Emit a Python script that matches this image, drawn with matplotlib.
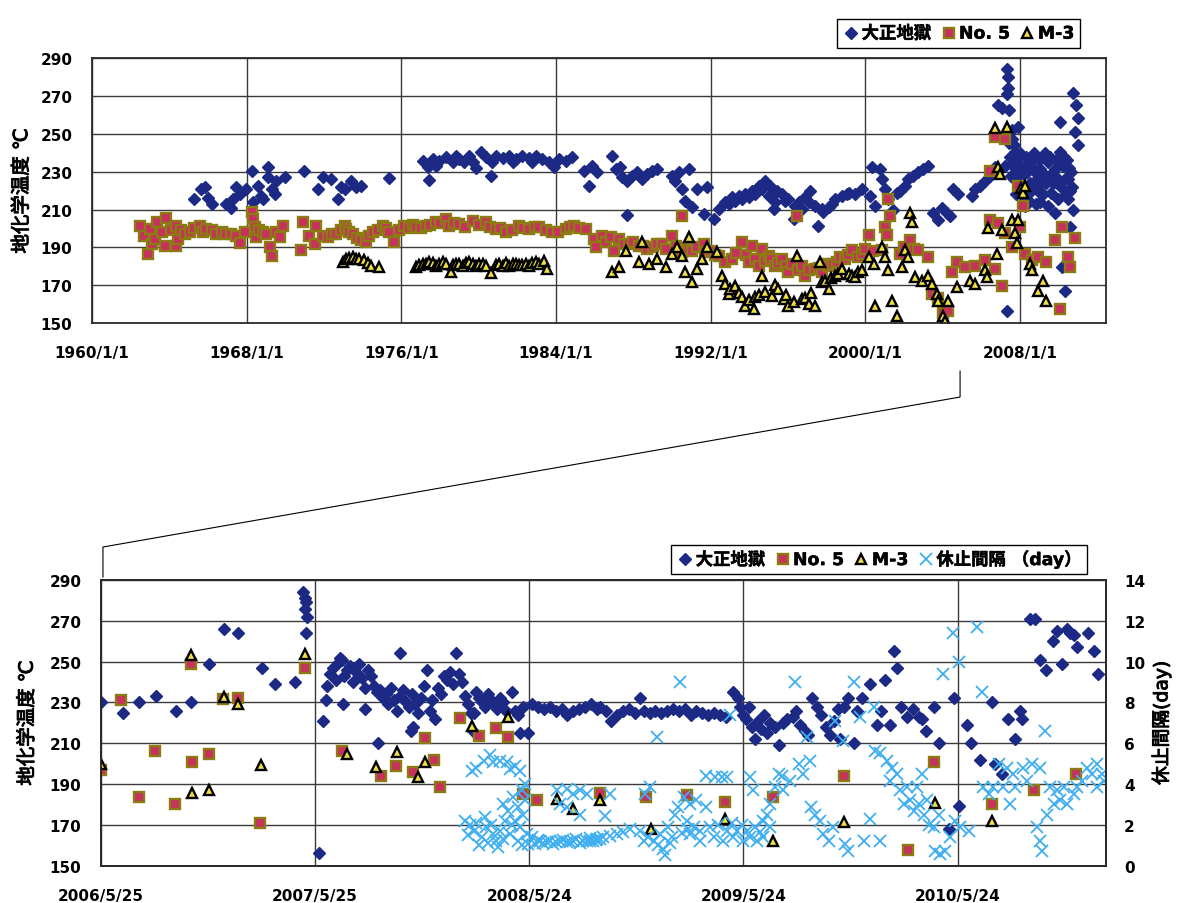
import numpy as np
import pandas as pd
import matplotlib
matplotlib.use("Agg")
import matplotlib.pyplot as plt
import matplotlib.patheffects as pe
from matplotlib.lines import Line2D

plt.rcParams["font.family"] = ["DejaVu Sans", "Noto Sans CJK JP"]
plt.rcParams["font.weight"] = "bold"

# ---------------- upper chart (decimal years, deg C) ----------------
taisho_year = [
    1965.27, 1965.66, 1965.83, 1966.00, 1966.20, 1966.95, 1967.20, 1967.30, 1967.47, 1967.64,
    1967.98, 1968.29, 1968.33, 1968.59, 1968.76, 1968.84, 1969.10, 1969.10, 1969.30, 1969.45,
    1969.53, 1969.96, 1970.96, 1971.68, 1971.94, 1972.37, 1972.71, 1972.89, 1973.06, 1973.40,
    1973.66, 1973.92, 1975.35, 1977.10, 1977.36, 1977.45, 1977.62, 1977.79, 1977.96, 1978.30,
    1978.65, 1978.82, 1979.00, 1979.25, 1979.51, 1979.68, 1979.85, 1980.11, 1980.37, 1980.63,
    1980.71, 1980.89, 1981.23, 1981.57, 1981.75, 1981.92, 1982.26, 1982.61, 1982.78, 1982.95,
    1983.29, 1983.64, 1983.90, 1984.15, 1984.50, 1984.84, 1985.45, 1985.70, 1985.88, 1986.13,
    1986.90, 1987.08, 1987.33, 1987.42, 1987.68, 1987.68, 1987.94, 1988.20, 1988.45, 1988.71,
    1988.97, 1989.23, 1990.00, 1990.17, 1990.35, 1990.52, 1990.69, 1990.86, 1991.03, 1991.29,
    1991.64, 1991.81, 1992.15, 1992.41, 1992.75, 1992.93, 1993.10, 1993.27, 1993.44, 1993.61,
    1993.79, 1993.96, 1994.13, 1994.30, 1994.47, 1994.65, 1994.82, 1994.99, 1995.08, 1995.25,
    1995.33, 1995.42, 1995.68, 1995.85, 1996.02, 1996.28, 1996.37, 1996.54, 1996.71, 1996.88,
    1997.06, 1997.14, 1997.40, 1997.57, 1997.74, 1997.83, 1998.09, 1998.26, 1998.43, 1998.78,
    1999.03, 1999.13, 1999.47, 1999.81, 2000.24, 2000.33, 2000.50, 2000.76, 2000.85, 2001.02,
    2001.19, 2001.45, 2001.62, 2001.79, 2002.05, 2002.22, 2002.48, 2002.74, 2002.98, 2003.25,
    2003.51, 2003.77, 2003.94, 2004.20, 2004.37, 2004.55, 2004.80, 2005.49, 2005.66, 2005.92,
    2006.18, 2006.44, 2006.70, 2006.87, 2007.04, 2007.21, 2007.30, 2007.35, 2007.39, 2007.30,
    2007.42, 2007.30, 2007.50, 2007.56, 2007.64, 2007.70, 2007.73, 2007.80, 2007.90, 2007.90,
    2008.00, 2008.07, 2008.16, 2008.24, 2008.24, 2008.30, 2008.40, 2008.50, 2008.60, 2008.76,
    2008.80, 2008.93, 2009.02, 2009.10, 2009.19, 2009.28, 2009.30, 2009.45, 2009.45, 2009.60,
    2009.62, 2009.79, 2009.79, 2009.90, 2009.97, 2010.05, 2010.05, 2010.14, 2010.20, 2010.31,
    2010.31, 2010.40, 2010.48, 2010.57, 2010.60, 2010.65, 2010.74, 2010.74, 2010.83, 2010.91,
    2011.00, 2011.00, 2007.45, 2007.55, 2007.60, 2007.68, 2007.75, 2007.85, 2007.95, 2008.05,
    2008.10, 2008.20, 2008.35, 2008.45, 2008.55, 2008.65, 2008.70, 2008.85, 2009.00, 2009.05,
    2009.15, 2009.35, 2009.50, 2009.55, 2009.70, 2009.85, 2009.95, 2010.10, 2010.25, 2010.35,
    2010.45, 2010.55, 2010.70,
]
taisho_temp = [
    215.6, 220.9, 221.8, 216.0, 213.0, 213.0, 211.0, 215.6, 221.8, 218.3,
    220.9, 230.3, 214.2, 222.7, 217.4, 215.6, 232.7, 227.1, 220.9, 218.3,
    225.3, 227.1, 230.6, 220.9, 227.1, 226.2, 215.6, 221.8, 221.0, 225.3,
    221.8, 222.7, 226.6, 235.9, 232.4, 225.8, 236.8, 233.2, 235.9, 237.7,
    235.0, 238.5, 236.8, 235.0, 238.5, 235.0, 231.8, 240.3, 237.7, 227.6,
    235.0, 238.5, 237.1, 238.2, 235.0, 236.8, 238.5, 237.1, 235.0, 238.5,
    236.8, 235.0, 232.4, 236.8, 235.9, 237.7, 230.6, 222.7, 233.2, 229.7,
    238.5, 231.5, 232.4, 227.1, 225.3, 207.1, 228.0, 229.7, 226.2, 228.9,
    230.6, 231.5, 228.0, 225.3, 229.7, 220.9, 214.7, 231.5, 211.2, 220.9,
    207.7, 221.8, 205.0, 210.3, 213.8, 213.0, 216.5, 214.7, 217.4, 215.6,
    218.3, 216.5, 220.0, 218.3, 222.7, 220.9, 225.3, 217.4, 222.7, 210.3,
    213.8, 220.0, 218.3, 214.7, 215.6, 205.0, 212.1, 213.8, 210.3, 216.5,
    213.8, 220.0, 212.1, 201.5, 210.3, 208.6, 211.2, 213.0, 215.6, 217.4,
    218.3, 219.0, 218.0, 220.7, 217.2, 232.4, 211.8, 231.5, 226.1, 220.7,
    215.4, 210.0, 219.0, 219.9, 222.5, 226.1, 227.9, 229.7, 231.5, 233.3,
    208.2, 204.6, 210.9, 208.2, 206.4, 220.7, 218.0, 217.2, 220.7, 222.5,
    225.2, 227.9, 232.4, 265.5, 263.7, 233.3, 284.3, 279.9, 274.5, 270.9,
    262.8, 156.3, 238.0, 247.6, 235.1, 226.0, 240.4, 218.0, 253.9, 229.7,
    240.0, 222.5, 217.2, 233.3, 211.8, 238.0, 215.0, 224.3, 236.0, 229.7,
    213.0, 220.0, 231.5, 224.0, 218.0, 226.1, 240.0, 235.1, 211.8, 228.0,
    219.0, 231.5, 208.2, 224.0, 215.4, 240.4, 256.6, 179.6, 233.0, 226.1,
    167.0, 236.0, 215.4, 201.0, 220.0, 229.7, 210.0, 271.8, 251.2, 265.5,
    258.4, 244.0, 245.0, 228.0, 252.0, 244.0, 232.0, 236.0, 225.0, 232.0,
    228.0, 221.0, 230.0, 219.0, 233.0, 222.0, 240.0, 226.0, 236.0, 214.0,
    230.0, 224.0, 228.0, 238.0, 224.0, 236.0, 226.0, 222.0, 238.0, 218.0,
    226.0, 232.0, 222.0,
]

no5_year = [
    1962.48, 1962.70, 1962.90, 1962.99, 1963.10, 1963.25, 1963.34, 1963.60, 1963.77, 1963.85,
    1964.10, 1964.33, 1964.37, 1964.46, 1964.60, 1964.80, 1965.06, 1965.30, 1965.57, 1965.75,
    1965.92, 1966.20, 1966.43, 1966.70, 1966.95, 1967.20, 1967.47, 1967.64, 1967.90, 1968.29,
    1968.33, 1968.41, 1968.50, 1968.65, 1968.84, 1969.00, 1969.19, 1969.32, 1969.50, 1969.70,
    1969.87, 1970.82, 1970.91, 1971.20, 1971.51, 1971.60, 1971.94, 1972.20, 1972.40, 1972.63,
    1972.90, 1973.06, 1973.14, 1973.30, 1973.49, 1973.70, 1973.90, 1974.18, 1974.35, 1974.52,
    1974.80, 1975.04, 1975.20, 1975.38, 1975.64, 1975.90, 1976.15, 1976.40, 1976.60, 1976.76,
    1977.00, 1977.27, 1977.50, 1977.79, 1978.00, 1978.31, 1978.48, 1978.70, 1979.00, 1979.30,
    1979.68, 1980.00, 1980.37, 1980.60, 1980.89, 1981.10, 1981.40, 1981.70, 1982.09, 1982.30,
    1982.61, 1982.90, 1983.12, 1983.50, 1983.81, 1984.10, 1984.50, 1984.70, 1984.93, 1985.20,
    1985.53, 1985.96, 1986.05, 1986.39, 1986.60, 1986.82, 1986.99, 1987.25, 1987.50, 1987.76,
    1988.00, 1988.28, 1988.50, 1988.71, 1989.00, 1989.23, 1989.50, 1989.66, 1990.00, 1990.20,
    1990.52, 1990.52, 1990.80, 1991.03, 1991.30, 1991.64, 1991.72, 1992.00, 1992.20, 1992.41,
    1992.75, 1993.10, 1993.30, 1993.61, 1993.80, 1993.96, 1994.13, 1994.30, 1994.47, 1994.65,
    1994.80, 1994.99, 1995.10, 1995.33, 1995.50, 1995.68, 1995.90, 1996.02, 1996.20, 1996.45,
    1996.50, 1996.71, 1996.88, 1997.10, 1997.40, 1997.60, 1997.74, 1997.90, 1998.09, 1998.30,
    1998.52, 1998.70, 1998.95, 1999.10, 1999.30, 1999.60, 1999.81, 2000.00, 2000.16, 2000.40,
    2000.85, 2001.02, 2001.10, 2001.19, 2001.28, 2001.79, 2002.00, 2002.31, 2002.50, 2002.74,
    2003.25, 2003.43, 2003.77, 2004.03, 2004.29, 2004.46, 2004.72, 2005.15, 2005.66, 2006.18,
    2006.44, 2006.44, 2006.70, 2006.70, 2006.87, 2007.04, 2007.21, 2007.21, 2007.56, 2007.90,
    2007.99, 2008.16, 2008.24, 2008.59, 2008.93, 2009.36, 2009.79, 2010.05, 2010.17, 2010.48,
    2010.57, 2010.83,
]
no5_temp = [
    201.5, 196.0, 186.5, 199.7, 192.0, 194.4, 203.3, 198.0, 190.9, 205.4,
    199.0, 190.9, 201.5, 194.4, 199.0, 197.1, 198.0, 200.0, 201.5, 198.0,
    199.7, 199.0, 197.1, 198.0, 197.1, 197.0, 196.2, 192.3, 198.0, 208.9,
    205.0, 200.6, 195.3, 199.0, 198.0, 197.0, 190.0, 185.6, 198.0, 195.3,
    201.5, 188.8, 203.3, 196.0, 191.8, 201.5, 196.2, 195.3, 197.0, 197.1,
    199.0, 201.5, 199.7, 198.0, 197.1, 195.0, 194.0, 192.7, 196.0, 198.0,
    199.0, 201.5, 200.0, 198.0, 193.0, 199.0, 201.5, 200.0, 202.0, 200.6,
    200.0, 201.5, 202.0, 203.3, 203.0, 205.0, 201.5, 203.0, 202.4, 201.0,
    204.2, 202.0, 203.3, 201.0, 199.7, 200.0, 198.0, 199.0, 201.5, 200.0,
    199.7, 201.0, 200.6, 199.0, 198.0, 198.0, 199.7, 201.0, 201.5, 200.0,
    199.7, 194.4, 190.0, 196.2, 193.0, 195.3, 188.3, 194.4, 192.0, 191.8,
    193.0, 190.9, 191.0, 189.2, 190.0, 191.8, 192.0, 189.2, 196.2, 191.0,
    206.8, 187.4, 189.0, 188.3, 190.0, 191.8, 187.4, 188.0, 186.0, 185.6,
    182.1, 183.9, 187.0, 192.7, 186.0, 182.1, 190.9, 184.0, 180.3, 189.2,
    183.0, 185.6, 184.0, 180.3, 182.0, 183.9, 180.0, 176.8, 181.0, 206.8,
    178.0, 180.3, 175.0, 178.0, 178.6, 179.0, 176.8, 181.0, 180.3, 181.0,
    182.1, 185.0, 183.9, 186.0, 188.5, 185.0, 186.7, 189.0, 196.6, 188.0,
    188.5, 201.0, 196.6, 215.4, 206.4, 186.7, 190.0, 193.9, 189.0, 188.5,
    184.9, 165.2, 163.4, 155.4, 156.3, 176.9, 182.2, 179.6, 180.4, 183.1,
    230.6, 204.6, 248.5, 178.6, 202.8, 169.7, 247.6, 197.5, 190.3, 222.5,
    201.0, 211.8, 186.7, 183.1, 184.9, 182.2, 193.9, 157.2, 201.0, 184.9,
    179.6, 194.8,
]

m3_year = [
    1972.97, 1973.14, 1973.30, 1973.49, 1973.66, 1973.83, 1974.09, 1974.26, 1974.43, 1974.86,
    1976.76, 1976.93, 1977.10, 1977.27, 1977.45, 1977.62, 1977.79, 1977.96, 1978.13, 1978.30,
    1978.56, 1978.65, 1978.82, 1979.00, 1979.17, 1979.34, 1979.51, 1979.68, 1979.85, 1980.02,
    1980.20, 1980.37, 1980.63, 1980.89, 1981.06, 1981.23, 1981.40, 1981.57, 1981.75, 1981.92,
    1982.09, 1982.26, 1982.44, 1982.61, 1982.78, 1982.95, 1983.12, 1983.38, 1983.55, 1986.90,
    1987.25, 1987.63, 1988.28, 1988.45, 1988.80, 1989.23, 1989.66, 1990.00, 1990.26, 1990.52,
    1990.69, 1990.86, 1991.03, 1991.29, 1991.55, 1991.81, 1992.33, 1992.58, 1992.75, 1992.93,
    1993.00, 1993.27, 1993.45, 1993.61, 1993.79, 1994.00, 1994.22, 1994.30, 1994.50, 1994.65,
    1994.82, 1995.16, 1995.30, 1995.50, 1995.77, 1995.90, 1996.02, 1996.30, 1996.45, 1996.71,
    1996.90, 1997.06, 1997.20, 1997.40, 1997.66, 1997.74, 1997.90, 1998.09, 1998.20, 1998.43,
    1998.60, 1998.78, 1999.13, 1999.30, 1999.47, 1999.60, 1999.81, 2000.16, 2000.42, 2000.50,
    2000.85, 2001.02, 2001.19, 2001.36, 2001.62, 2001.88, 2002.05, 2002.22, 2002.31, 2002.39,
    2002.57, 2002.91, 2003.25, 2003.43, 2003.69, 2003.77, 2004.03, 2004.12, 2004.29, 2004.72,
    2005.40, 2005.66, 2006.18, 2006.27, 2006.35, 2006.70, 2006.78, 2006.87, 2006.96, 2007.04,
    2007.30, 2007.56, 2007.73, 2007.82, 2007.90, 2008.07, 2008.16, 2008.24, 2008.50, 2008.59,
    2008.93, 2009.19, 2009.36,
]
m3_temp = [
    182.1, 183.9, 184.5, 184.7, 184.0, 183.9, 183.5, 182.0, 180.3, 179.4,
    179.4, 180.5, 181.2, 181.0, 182.1, 181.5, 180.3, 181.0, 182.1, 181.0,
    176.8, 180.5, 181.2, 181.0, 180.3, 181.5, 182.1, 181.0, 180.3, 181.0,
    181.2, 180.0, 176.5, 180.7, 181.0, 180.0, 181.5, 180.3, 181.0, 181.2,
    180.5, 180.7, 181.0, 180.3, 181.5, 182.1, 181.0, 183.0, 178.6, 176.8,
    179.4, 188.3, 182.1, 192.7, 181.2, 183.9, 179.4, 186.5, 190.0, 185.6,
    176.8, 195.3, 171.5, 178.6, 183.9, 190.0, 187.4, 175.0, 170.6, 165.3,
    168.0, 169.7, 166.0, 163.6, 159.2, 162.0, 157.4, 163.6, 165.0, 175.0,
    166.2, 164.5, 170.0, 168.0, 162.7, 165.0, 159.2, 161.0, 185.6, 162.7,
    163.0, 160.1, 166.0, 159.2, 182.1, 171.5, 172.0, 168.0, 174.0, 175.0,
    176.0, 178.6, 176.0, 175.0, 174.2, 177.0, 177.8, 184.9, 181.3, 159.0,
    190.3, 184.9, 177.8, 161.6, 153.6, 179.6, 188.5, 184.9, 208.2, 203.7,
    174.2, 172.4, 175.1, 170.6, 165.2, 161.6, 153.6, 150.9, 161.6, 168.8,
    172.4, 170.6, 177.8, 174.2, 200.2, 253.0, 186.7, 232.4, 228.8, 199.3,
    253.9, 204.6, 197.5, 192.1, 204.6, 221.6, 219.0, 222.5, 181.3, 177.8,
    167.0, 172.4, 161.6,
]

# ---------------- lower chart (days after 2006/5/25) ----------------
taisho_day = [
    0, 38, 65, 94, 128, 154, 185, 209, 234, 274, 297, 330, 345, 347, 348, 349, 350, 352,
    372, 379, 383, 385, 390, 395, 400, 405, 407, 410, 413, 415, 420, 425, 430, 435, 440,
    445, 450, 450, 455, 460, 465, 470, 473, 475, 480, 485, 490, 495, 500, 505, 510, 510,
    515, 520, 525, 528, 530, 532, 535, 540, 545, 550, 555, 560, 565, 570, 575, 580, 585,
    590, 595, 600, 605, 610, 615, 620, 625, 630, 634, 635, 640, 645, 650, 655, 660, 665,
    670, 675, 680, 685, 690, 700, 705, 710, 715, 720, 727, 735, 745, 755, 765, 775, 785,
    795, 805, 815, 825, 835, 845, 850, 860, 870, 880, 890, 900, 910, 918, 925, 935, 945,
    955, 965, 975, 985, 995, 1005, 1015, 1025, 1035, 1045, 1055, 1065, 1078, 1085, 1090,
    1095, 1100, 1105, 1110, 1115, 1120, 1125, 1130, 1135, 1140, 1148, 1155, 1162, 1170,
    1180, 1185, 1192, 1200, 1205, 1212, 1220, 1228, 1235, 1242, 1250, 1257, 1260, 1266,
    1274, 1283, 1288, 1297, 1310, 1323, 1330, 1337, 1344, 1352, 1357, 1363, 1374, 1384,
    1394, 1400, 1407, 1419, 1428, 1445, 1454, 1462, 1476, 1483, 1498, 1519, 1524, 1536,
    1546, 1558, 1567, 1570, 1583, 1592, 1600, 1610, 1623, 1629, 1638, 1646, 1652, 1658,
    1663, 1683, 1692, 1699,
]
taisho_temp2 = [
    230, 225, 230, 233, 226, 230, 249, 266, 264, 247, 239, 240, 284, 281, 276, 264, 279, 272,
    156, 221, 231, 238, 244, 247, 241, 250, 252, 251, 229, 243, 246, 248, 240, 245, 249,
    242, 237, 227, 246, 243, 238, 235, 210, 236, 232, 234, 229, 237, 231, 226, 233, 254,
    236, 230, 228, 216, 234, 218, 229, 225, 232, 238, 246, 226, 231, 222, 237, 234, 243,
    241, 245, 239, 254, 244, 240, 233, 229, 225, 216, 225, 235, 232, 230, 228, 234, 231,
    229, 227, 232, 230, 226, 235, 226, 224, 215, 228, 215, 229, 228, 227, 228, 226, 227,
    224, 226, 227, 228, 229, 227, 228, 226, 221, 224, 226, 227, 225, 232, 226, 225, 226,
    225, 226, 227, 226, 227, 224, 226, 225, 224, 225, 224, 223, 235, 232, 228,
    224, 222, 228, 218, 212, 221, 217, 224, 215, 220, 218, 209, 220, 222,
    223, 226, 219, 216, 214, 232, 228, 224, 218, 214, 221, 227, 212, 228,
    232, 210, 226, 232, 239, 219, 226, 241, 219, 255, 247, 228, 223, 227,
    223, 222, 216, 228, 210, 168, 232, 179, 219, 210, 202, 230, 200, 195,
    222, 212, 226, 222, 271, 271, 251, 246, 260, 265, 249, 266, 264, 263,
    257, 264, 255, 244,
]

no5_day = [0, 35, 64, 92, 126, 153, 155, 185, 208, 233, 271, 348, 410, 477, 503, 532, 552,
           568, 578, 612, 645, 673, 694, 720, 743, 850, 929, 999, 1064, 1146, 1266, 1376,
           1419, 1519, 1591, 1662]
no5_temp2 = [197, 231, 183.5, 206, 180, 249, 200.6, 204.7, 231.7, 232, 170.7, 247, 206, 194,
             199, 196, 212.5, 202, 188.4, 222.4, 213.7, 217.5, 213, 185, 182, 185.5, 183.5,
             184.6, 181.3, 183.8, 194, 157.6, 201, 180, 187, 195]

m3_day = [0, 154, 155, 185, 209, 234, 273, 348, 420, 469, 504, 540, 552, 633, 694, 777, 805,
          850, 938, 1064, 1146, 1267, 1421, 1519]
m3_temp2 = [200, 253, 185.6, 187, 232.8, 229.2, 199.5, 253.7, 204.5, 198.5, 205.8, 193.3, 201,
            218.6, 223, 182.6, 177.7, 182, 168, 172.8, 162.2, 171.2, 180.5, 172]

rest_day = [
    620, 625, 629, 632, 635, 640, 640, 645, 649, 652, 655, 657, 660, 663, 665, 669, 669, 674,
    677, 680, 680, 685, 686, 689, 692, 694, 697, 697, 700, 703, 706, 706, 710, 711, 714, 714,
    717, 718, 720, 723, 723, 726, 728, 734, 740, 745, 748, 754, 760, 765, 771, 776, 777, 782,
    782, 788, 794, 794, 794, 800, 805, 805, 810, 816, 816, 816, 822, 828, 828, 833, 834, 839,
    843, 845, 851, 856, 859, 868, 868, 879, 890, 902, 919, 925, 927, 933, 936, 942, 947, 950,
    953, 958, 961, 967, 970, 973, 978, 984, 987, 990, 993, 998, 1000, 1004, 1004, 1010, 1015,
    1021, 1021, 1032, 1032, 1038, 1044, 1047, 1052, 1058, 1061, 1067, 1067, 1072, 1075, 1078,
    1084, 1092, 1095, 1101, 1106, 1106, 1112, 1115, 1118, 1123, 1129, 1129, 1135, 1140, 1140,
    1149, 1155, 1160, 1163, 1174, 1183, 1189, 1197, 1203, 1209, 1211, 1217, 1226, 1231, 1240,
    1248, 1251, 1265, 1268, 1274, 1284, 1294, 1300, 1311, 1317, 1320, 1328, 1328, 1340, 1345,
    1348, 1357, 1362, 1368, 1374, 1379, 1385, 1391, 1394, 1399, 1402, 1408, 1411, 1419, 1422,
    1428, 1430, 1436, 1439, 1447, 1453, 1456, 1462, 1464, 1479, 1493, 1501, 1504, 1513, 1521,
    1530, 1538, 1544, 1550, 1555, 1558, 1572, 1578, 1587, 1595, 1601, 1601, 1604, 1609, 1612,
    1618, 1624, 1629, 1635, 1641, 1646, 1658, 1663, 1672, 1680, 1689, 1697, 1697, 1706, 1709,
]
rest_gap = [
    2.2, 1.5, 2.0, 4.66, 1.7, 2.1, 4.8, 1.0, 1.4, 5.15, 2.4, 1.9, 1.1, 5.4, 2.0, 1.55, 5.07, 1.2,
    0.9, 1.7, 5.15, 1.3, 3.0, 2.2, 5.07, 2.7, 1.55, 4.74, 2.0, 3.35, 2.2, 4.9, 1.2, 2.86, 1.9, 4.66,
    3.7, 1.0, 2.5, 3.2, 4.0, 1.55, 1.06, 1.4, 1.06, 1.25, 1.2, 1.1, 1.14, 1.2, 1.06, 1.15, 3.7, 1.2,
    3.0, 1.25, 1.14, 3.76, 2.86, 1.15, 1.2, 3.5, 1.3, 1.1, 3.7, 2.5, 1.2, 1.2, 3.5, 1.35, 1.2, 1.2,
    1.25, 1.3, 1.3, 1.4, 2.45, 1.47, 3.5, 1.55, 1.63, 1.8, 1.7, 1.2, 3.5, 1.4, 3.84, 1.2, 6.3, 1.0,
    1.55, 0.8, 0.5, 1.9, 1.1, 1.4, 2.5, 2.86, 9.0, 1.6, 3.35, 2.2, 1.8, 3.0, 1.55, 1.9, 3.2,
    1.7, 1.2, 4.4, 2.86, 1.9, 1.4, 4.33, 2.0, 4.33, 1.2, 4.33, 1.7, 7.4, 2.1, 1.4,
    1.7, 2.0, 1.2, 1.7, 4.33, 1.4, 3.7, 1.9, 1.2, 1.63, 2.2, 1.4, 2.5, 3.0, 1.9,
    3.84, 4.5, 4.4, 3.7, 4.17, 9.0, 5.0, 4.5, 6.3, 5.15, 2.86, 2.5, 2.2, 1.55, 1.2,
    1.9, 7.1, 6.1, 1.06, 0.73, 9.0, 7.3, 1.2, 2.3, 7.8, 5.6, 5.5, 1.2, 5.15, 4.17,
    4.8, 4.5, 3.7, 3.0, 3.84, 3.2, 2.7, 3.84, 3.0, 4.5, 2.5, 3.2, 2.0, 1.9, 0.73,
    2.5, 0.57, 9.4, 0.73, 1.4, 11.4, 2.2, 10.0, 1.9, 1.7, 11.7, 8.5, 3.84, 3.5, 3.84,
    5.0, 3.84, 4.8, 3.0, 4.5, 3.84, 4.8, 4.17, 5.0, 1.9, 1.2, 4.8, 0.73, 6.6, 2.5,
    3.84, 3.0, 3.7, 3.2, 3.84, 3.0, 3.5, 3.84, 4.17, 4.8, 4.5, 5.0, 3.84, 4.5, 4.17,
]

top_ticks = ["1960/1/1", "1968/1/1", "1976/1/1", "1984/1/1", "1992/1/1", "2000/1/1", "2008/1/1"]
bottom_ticks = ["2006/5/25", "2007/5/25", "2008/5/24", "2009/5/24", "2010/5/24"]

blue = "#1c2a85"
sq_face, sq_edge = "#c8305e", "#8c7a12"
tri_face = "#f0e040"
cross = "#3eaef0"
grid_c = "#3a3a3a"
heavy = [pe.withStroke(linewidth=0.7, foreground="black")]
light = [pe.withStroke(linewidth=0.35, foreground="black")]


def to_dates(years):
    y = np.asarray(years, float)
    return pd.Timestamp("1960-01-01") + pd.to_timedelta((y - 1960) * 365.25, unit="D")


start = pd.Timestamp("2006-05-25")


def from_start(days):
    return start + pd.to_timedelta(np.asarray(days, float), unit="D")


fig = plt.figure(figsize=(11.78, 9.04), dpi=100)


def style_axes(ax):
    ax.set_axisbelow(True)
    ax.grid(True, color=grid_c, lw=1.0)
    for s in ax.spines.values():
        s.set_color("#2a2a2a")
        s.set_linewidth(1.3)
    ax.tick_params(length=0, labelsize=11)
    ax.tick_params(axis="x", pad=16)
    ax.tick_params(axis="y", pad=14)


def add_legend(ax, handles, anchor):
    leg = ax.legend(handles=handles, loc="upper right", bbox_to_anchor=anchor,
                    bbox_transform=fig.transFigure, ncol=len(handles), fontsize=12.5,
                    frameon=True, fancybox=False, edgecolor="black", framealpha=1,
                    borderpad=0.3, handletextpad=0.1, columnspacing=0.5, handlelength=1.0)
    leg.get_frame().set_linewidth(1.0)
    for t in leg.get_texts():
        t.set_path_effects(light)
    return leg


# ---------------- upper ----------------
ax1 = fig.add_axes([0.0781, 0.6416, 0.861, 0.2927])
h1, = ax1.plot(to_dates(taisho_year), taisho_temp, "D", ls="none", ms=6.0, color=blue,
               label="大正地獄")
h2, = ax1.plot(to_dates(no5_year), no5_temp, "s", ls="none", ms=6.8, mfc=sq_face, mec=sq_edge,
               mew=1.7, label="No. 5")
h3, = ax1.plot(to_dates(m3_year), m3_temp, "^", ls="none", ms=7.5, mfc=tri_face, mec="black",
               mew=1.7, label="M-3")
ax1.set_ylim(150, 290)
ax1.set_yticks(range(150, 291, 20))
ax1.set_xlim(pd.Timestamp("1960-01-01"), pd.Timestamp("2012-06-15"))
ax1.set_xticks([pd.Timestamp(int(t.split("/")[0]), 1, 1) for t in top_ticks])
ax1.set_xticklabels(top_ticks)
style_axes(ax1)
ax1.set_ylabel("地化学温度 ℃", fontsize=14, path_effects=heavy)
ax1.yaxis.set_label_coords(-0.060, 0.5)
add_legend(ax1, [h1, h2, h3], (0.924, 0.987))

# ---------------- lower ----------------
ax2 = fig.add_axes([0.0857, 0.0413, 0.8532, 0.316])
g1, = ax2.plot(from_start(taisho_day), taisho_temp2, "D", ls="none", ms=6.0, color=blue,
               label="大正地獄")
g2, = ax2.plot(from_start(no5_day), no5_temp2, "s", ls="none", ms=6.8, mfc=sq_face, mec=sq_edge,
               mew=1.7, label="No. 5")
g3, = ax2.plot(from_start(m3_day), m3_temp2, "^", ls="none", ms=7.5, mfc=tri_face, mec="black",
               mew=1.7, label="M-3")
ax2.set_ylim(150, 290)
ax2.set_yticks(range(150, 291, 20))
x0, x1 = start, start + pd.Timedelta(days=1713)
ax2.set_xlim(x0, x1)
ax2.set_xticks([start + pd.Timedelta(days=365 * k) for k in range(len(bottom_ticks))])
ax2.set_xticklabels(bottom_ticks)
style_axes(ax2)
ax2.set_ylabel("地化学温度 ℃", fontsize=14, path_effects=heavy)
ax2.yaxis.set_label_coords(-0.064, 0.5)

ax3 = ax2.twinx()
g4, = ax3.plot(from_start(rest_day), rest_gap, "x", ls="none", ms=8, mew=1.3, color=cross,
               label="休止間隔 （day）")
ax3.set_ylim(0, 14)
ax3.set_yticks(range(0, 15, 2))
ax3.set_xlim(x0, x1)
for s in ax3.spines.values():
    s.set_color("#2a2a2a")
    s.set_linewidth(1.3)
ax3.tick_params(length=0, labelsize=11, pad=13)
ax3.set_ylabel("休止間隔(day)", fontsize=13.5, path_effects=heavy)
ax3.yaxis.set_label_coords(1.045, 0.5)
add_legend(ax3, [g1, g2, g3, g4], (0.930, 0.406))

# zoom connector between the two panels
fig.add_artist(Line2D([0.815, 0.815, 0.0874, 0.0874], [0.5885, 0.5597, 0.3938, 0.3606],
                      transform=fig.transFigure, color="black", lw=0.8))

fig.savefig("out.png", dpi=100)
